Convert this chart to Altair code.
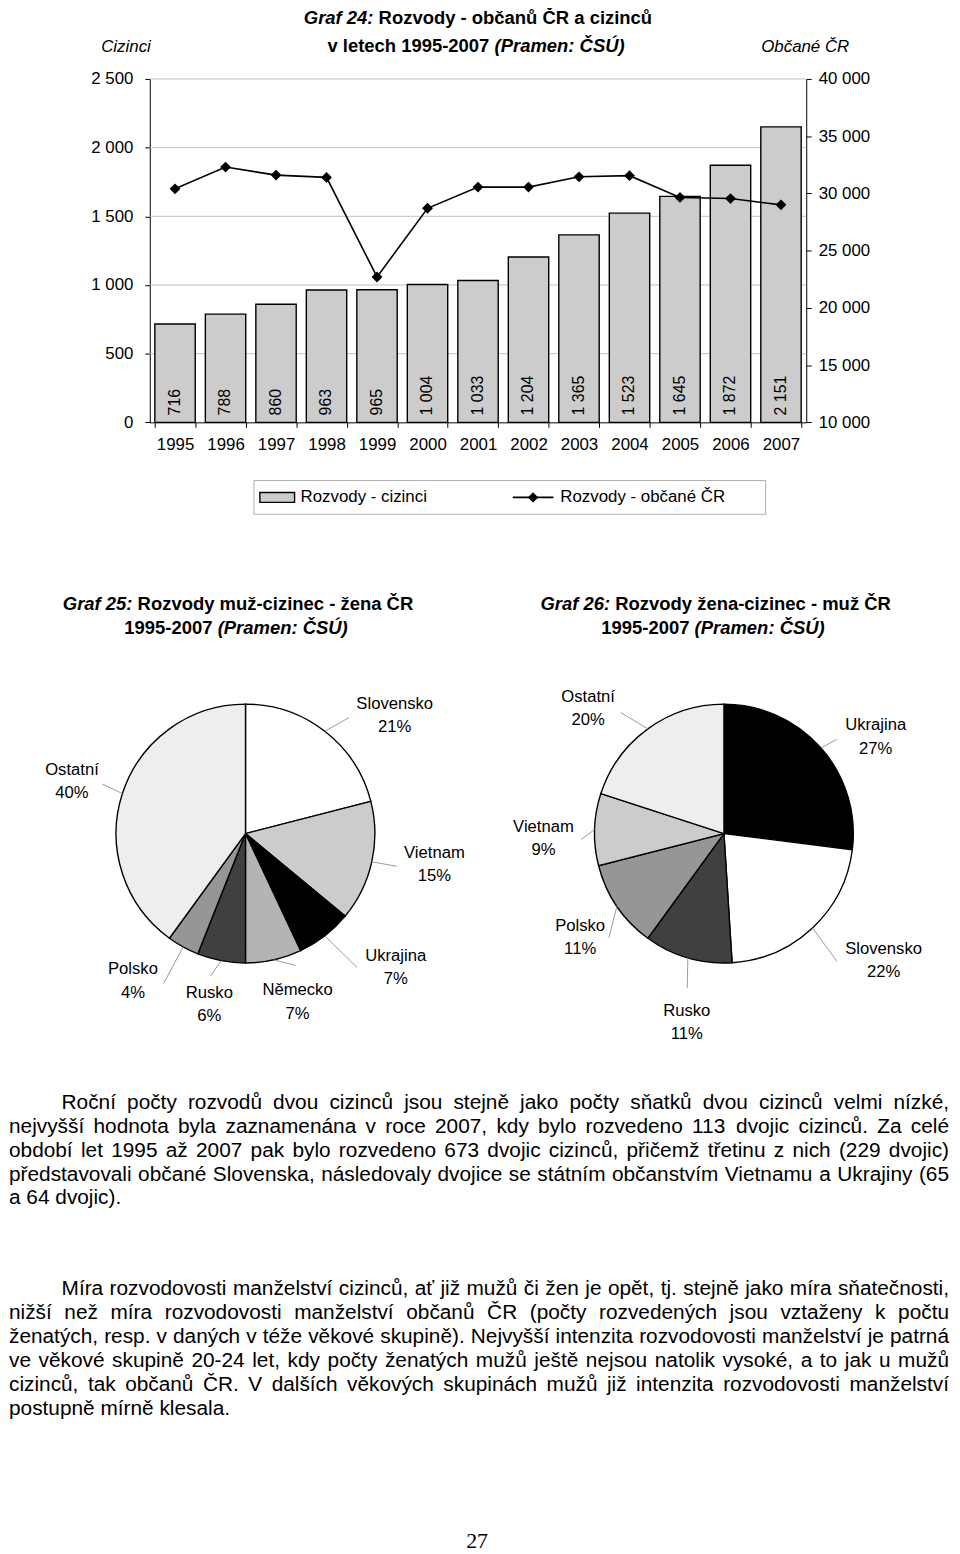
import altair as alt
import pandas as pd

# ---------------- data ----------------
years = [1995, 1996, 1997, 1998, 1999, 2000, 2001, 2002, 2003, 2004, 2005, 2006, 2007]
divorces_foreigners = [716, 788, 860, 963, 965, 1004, 1033, 1204, 1365, 1523, 1645, 1872, 2151]
divorces_citizens = [30400, 32300, 31600, 31400, 22700, 28700, 30550, 30550, 31450, 31550, 29650, 29550, 29000]
left_ticks = [0, 500, 1000, 1500, 2000, 2500]
right_ticks = [10000, 15000, 20000, 25000, 30000, 35000, 40000]

pie1_countries = ["Slovensko", "Vietnam", "Ukrajina", "Německo", "Rusko", "Polsko", "Ostatní"]
pie1_shares = [21, 15, 7, 7, 6, 4, 40]
pie2_countries = ["Ukrajina", "Slovensko", "Rusko", "Polsko", "Vietnam", "Ostatní"]
pie2_shares = [27, 22, 11, 11, 9, 20]

title24 = [[("Graf 24:", "bi"), ("Rozvody - občanů ČR a cizinců", "b")],
           [("v letech 1995-2007", "b"), ("(Pramen: ČSÚ)", "bi")]]
title25 = [[("Graf 25:", "bi"), ("Rozvody muž-cizinec - žena ČR", "b")],
           [("1995-2007", "b"), ("(Pramen: ČSÚ)", "bi")]]
title26 = [[("Graf 26:", "bi"), ("Rozvody žena-cizinec - muž ČR", "b")],
           [("1995-2007", "b"), ("(Pramen: ČSÚ)", "bi")]]
left_axis_title = "Cizinci"
right_axis_title = "Občané ČR"
legend_labels = ["Rozvody - cizinci", "Rozvody - občané ČR"]

paragraph1 = [
    "Roční počty rozvodů dvou cizinců jsou stejně jako počty sňatků dvou cizinců velmi nízké,",
    "nejvyšší hodnota byla zaznamenána v roce 2007, kdy bylo rozvedeno 113 dvojic cizinců. Za celé",
    "období let 1995 až 2007 pak bylo rozvedeno 673 dvojic cizinců, přičemž třetinu z nich (229 dvojic)",
    "představovali občané Slovenska, následovaly dvojice se státním občanstvím Vietnamu a Ukrajiny (65",
    "a 64 dvojic).",
]
paragraph2 = [
    "Míra rozvodovosti manželství cizinců, ať již mužů či žen je opět, tj. stejně jako míra sňatečnosti,",
    "nižší než míra rozvodovosti manželství občanů ČR (počty rozvedených jsou vztaženy k počtu",
    "ženatých, resp. v daných v téže věkové skupině). Nejvyšší intenzita rozvodovosti manželství je patrná",
    "ve věkové skupině 20-24 let, kdy počty ženatých mužů ještě nejsou natolik vysoké, a to jak u mužů",
    "cizinců, tak občanů ČR. V dalších věkových skupinách mužů již intenzita rozvodovosti manželství",
    "postupně mírně klesala.",
]
page_number = "27"

# ---------------- layout / style ----------------
SANS = "Liberation Sans, Arial, Helvetica, sans-serif"
SERIF = "Liberation Serif, Times New Roman, serif"
OX, OY = 8, 8
W, H = 952, 1546


def px(x):
    return x - OX


def py(y):
    return y - OY


PLOT_L, PLOT_R, PLOT_T, PLOT_B = 151, 813, 73, 419.3
X_RANGE = [px(PLOT_L), px(PLOT_R)]
Y_RANGE = [py(PLOT_B), py(PLOT_T)]

pie1_colors = ["#ffffff", "#cccccc", "#000000", "#b4b4b4", "#404040", "#969696", "#eeeeee"]
pie2_colors = ["#000000", "#ffffff", "#404040", "#969696", "#cccccc", "#eeeeee"]
PIE1_C, PIE2_C, PIE_R = (247.5, 834), (730, 834), 130.5

# label anchor (x, name-line y, pct-line y) and leader-line end (page px)
pie1_label_pos = {
    "Slovensko": (398, 703, 727, 352, 717), "Vietnam": (438, 854, 877, 400, 867),
    "Ukrajina": (399, 958, 981, 360, 969), "Německo": (300, 992, 1016, 298, 967),
    "Rusko": (211, 995, 1018, 212, 978), "Polsko": (134, 971, 995, 165, 985),
    "Ostatní": (72.5, 770, 793, 103, 784),
}
pie2_label_pos = {
    "Ukrajina": (883, 725, 749, 844, 739), "Slovensko": (891, 950, 974, 844, 963),
    "Rusko": (692.5, 1012.5, 1036, 693, 990), "Polsko": (585, 927, 950.5, 614, 939),
    "Vietnam": (548, 827, 851, 586, 840), "Ostatní": (593, 696, 720, 626, 712),
}

# Arial / Liberation Sans advance widths (1/1000 em)
LOW = "abcdefghijklmnopqrstuvwxyz"
UP = "ABCDEFGHIJKLMNOPQRSTUVWXYZ"
REG_W = dict(zip(LOW, [556, 556, 500, 556, 556, 278, 556, 556, 222, 222, 500, 222, 833, 556, 556, 556, 556, 333, 500, 278, 556, 500, 722, 500, 500, 500]))
REG_W.update(zip(UP, [667, 667, 722, 722, 667, 611, 778, 722, 278, 500, 667, 556, 833, 722, 778, 667, 778, 722, 667, 611, 722, 667, 944, 667, 667, 611]))
REG_W.update({" ": 278, ",": 278, ".": 278, "-": 333, "(": 333, ")": 333, ":": 278, "%": 889, ";": 278})
BOLD_W = dict(zip(LOW, [556, 611, 556, 611, 556, 333, 611, 611, 278, 278, 556, 278, 889, 611, 611, 611, 611, 389, 556, 333, 611, 556, 778, 556, 556, 500]))
BOLD_W.update(zip(UP, [722, 722, 722, 722, 667, 611, 778, 722, 278, 556, 722, 611, 833, 722, 778, 667, 778, 722, 667, 611, 722, 667, 944, 667, 667, 611]))
BOLD_W.update({" ": 278, ",": 278, ".": 278, "-": 333, "(": 333, ")": 333, ":": 333, "%": 889, ";": 333})
for d in "0123456789":
    REG_W[d] = 556
    BOLD_W[d] = 556
ACC = {"á": "a", "č": "c", "ď": "d", "é": "e", "ě": "e", "ň": "n", "ó": "o", "ř": "r", "š": "s",
       "ú": "u", "ů": "u", "ý": "y", "ž": "z", "Č": "C", "Ř": "R", "Š": "S", "Ú": "U", "Ž": "Z"}


def tw(s, bold=False):
    t = BOLD_W if bold else REG_W
    tot = 0
    for ch in s:
        if ch in t:
            tot += t[ch]
        elif ch == "í":
            tot += 278
        elif ch == "ť":
            tot += 370
        elif ch in ACC:
            tot += t[ACC[ch]]
        else:
            tot += 556
    return tot / 1000.0


# text collector grouped by style
TEXT_GROUPS = {}


def add_text(x, y, t, size, weight="normal", style="normal", align="left", family=SANS):
    key = (size, weight, style, align, family)
    TEXT_GROUPS.setdefault(key, []).append({"x": px(x), "y": py(y), "t": t})


def add_title(lines, cx_list, y_list, size):
    for parts, cx, y in zip(lines, cx_list, y_list):
        widths = [tw(p, True) * size for p, _ in parts]
        sp = tw(" ", True) * size
        total = sum(widths) + sp * (len(parts) - 1)
        x = cx - total / 2
        for (p, st), wd in zip(parts, widths):
            add_text(x, y, p, size, "bold", "italic" if "i" in st else "normal", "left")
            x += wd + sp


def add_paragraph(lines, x0, x1, indent, y0, pitch, fs):
    for i, line in enumerate(lines):
        words = line.split(" ")
        start = x0 + (indent if i == 0 else 0)
        ws = [tw(w) * fs for w in words]
        last = i == len(lines) - 1
        if last or len(words) == 1:
            gap = tw(" ") * fs
        else:
            gap = (x1 - start - sum(ws)) / (len(words) - 1)
        x = start
        for w, wd in zip(words, ws):
            add_text(x, y0 + i * pitch, w, fs)
            x += wd + gap


# ---------------- combo chart (Graf 24) ----------------
SEP = "replace(format(datum.value, ','), ',', ' ')"
base_axis = dict(domainColor="black", domainWidth=1, tickColor="black", tickWidth=1, tickSize=5,
                 labelFont=SANS, labelFontSize=17, labelColor="black", grid=False, title=None)
x_axis = alt.Axis(orient="bottom", offset=py(PLOT_B) - H, labelAngle=0, labelPadding=9,
                  tickBand="extent", **base_axis)
X = alt.X("year:N", scale=alt.Scale(range=X_RANGE, paddingInner=0.2, paddingOuter=0.1),
          axis=x_axis, sort=None)
left_scale = alt.Scale(domain=[0, 2500], range=Y_RANGE, nice=False, zero=True)
left_axis = alt.Axis(orient="left", offset=-px(PLOT_L), values=left_ticks, labelExpr=SEP,
                     labelPadding=12, **base_axis)
right_scale = alt.Scale(domain=[10000, 40000], range=Y_RANGE, nice=False, zero=False)
right_axis = alt.Axis(orient="right", offset=px(PLOT_R) - W, values=right_ticks, labelExpr=SEP,
                      labelPadding=7, **base_axis)

df_bar = pd.DataFrame({
    "year": [str(y) for y in years],
    "foreign": divorces_foreigners,
    "zero": [0] * len(years),
    "label": [f"{v:,}".replace(",", " ") for v in divorces_foreigners],
})
df_line = pd.DataFrame({"year": [str(y) for y in years], "citizens": divorces_citizens})
df_grid = pd.DataFrame({"foreign": left_ticks[1:]})

grid = alt.Chart(df_grid).mark_rule(color="#c0c0c0", strokeWidth=1).encode(
    y=alt.Y("foreign:Q", scale=left_scale, axis=left_axis),
    x=alt.value(px(PLOT_L)), x2=alt.value(px(PLOT_R)))
bars = alt.Chart(df_bar).mark_bar(fill="#cccccc", stroke="black", strokeWidth=1.4).encode(
    x=X, y=alt.Y("foreign:Q", scale=left_scale, axis=left_axis))
bar_labels = alt.Chart(df_bar).mark_text(angle=270, align="left", baseline="middle", dx=7,
                                         font=SANS, fontSize=16, color="black").encode(
    x=X, y=alt.Y("zero:Q", scale=left_scale, axis=left_axis), text="label:N")
left_layer = alt.layer(grid, bars, bar_labels)

line = alt.Chart(df_line).mark_line(color="black", strokeWidth=1.6).encode(
    x=X, y=alt.Y("citizens:Q", scale=right_scale, axis=right_axis))
pts = alt.Chart(df_line).mark_point(shape="diamond", filled=True, color="black", size=120, opacity=1).encode(
    x=X, y=alt.Y("citizens:Q", scale=right_scale, axis=right_axis))
right_layer = alt.layer(line, pts)
combo = alt.layer(left_layer, right_layer).resolve_scale(y="independent")

add_title(title24, [482, 480], [12, 40], 18.6)
add_text(127, 41, left_axis_title, 17, style="italic", align="center")
add_text(812, 41, right_axis_title, 17, style="italic", align="center")

# legend
one = pd.DataFrame({"a": [0]})
leg_box = alt.Chart(one).mark_rect(fillOpacity=0, stroke="#b0b0b0", strokeWidth=1).encode(
    x=alt.value(px(256)), x2=alt.value(px(772)), y=alt.value(py(478)), y2=alt.value(py(512)))
leg_swatch = alt.Chart(one).mark_rect(fill="#cccccc", stroke="black", strokeWidth=1.4).encode(
    x=alt.value(px(262)), x2=alt.value(px(297)), y=alt.value(py(490)), y2=alt.value(py(500)))
leg_line = alt.Chart(one).mark_rule(color="black", strokeWidth=1.6).encode(
    x=alt.value(px(517)), x2=alt.value(px(558)), y=alt.value(py(495)))
leg_pt = alt.Chart(one).mark_point(shape="diamond", filled=True, color="black", size=110, opacity=1).encode(
    x=alt.value(px(537.5)), y=alt.value(py(495)))
add_text(303, 495, legend_labels[0], 17)
add_text(565, 495, legend_labels[1], 17)


# ---------------- pies ----------------
def pie_layers(cats, vals, colors, center, label_pos):
    cx, cy = px(center[0]), py(center[1])
    df = pd.DataFrame({
        "cat": cats, "val": vals, "idx": list(range(len(cats))), "col": colors,
        "ex": [px(label_pos[c][3]) for c in cats], "ey": [py(label_pos[c][4]) for c in cats],
    })
    arcs = alt.Chart(df).mark_arc(radius=PIE_R, stroke="black", strokeWidth=1.4).encode(
        theta=alt.Theta("val:Q", stack=True), order=alt.Order("idx:Q"),
        color=alt.Color("col:N", scale=None), x=alt.value(cx), y=alt.value(cy))
    leaders = alt.Chart(df).transform_window(
        cum="sum(val)", sort=[alt.SortField("idx")], frame=[None, 0]
    ).transform_joinaggregate(tot="sum(val)").transform_calculate(
        mid="(datum.cum - datum.val / 2) / datum.tot * 2 * PI",
        sx=f"{cx} + {PIE_R} * sin(datum.mid)",
        sy=f"{cy} - {PIE_R} * cos(datum.mid)",
    ).mark_rule(color="#9a9a9a", strokeWidth=1).encode(
        x=alt.X("sx:Q", scale=None), y=alt.Y("sy:Q", scale=None), x2="ex:Q", y2="ey:Q")
    for c, v in zip(cats, vals):
        lx, ly1, ly2 = label_pos[c][:3]
        add_text(lx, ly1, c, 16.8, align="center")
        add_text(lx, ly2, f"{v}%", 16.8, align="center")
    return [arcs, leaders]


pie_parts = pie_layers(pie1_countries, pie1_shares, pie1_colors, PIE1_C, pie1_label_pos)
pie_parts += pie_layers(pie2_countries, pie2_shares, pie2_colors, PIE2_C, pie2_label_pos)
add_title(title25, [240, 238], [602.7, 626.7], 18.6)
add_title(title26, [721.7, 719], [602.7, 626.7], 18.6)

# ---------------- body text ----------------
TX0, TX1 = 9, 957
just = [l for l in paragraph1[:-1] + paragraph2[:-1]]
fs_body = min(21.0, min((TX1 - TX0 - (62 if l in (paragraph1[0], paragraph2[0]) else 0)) / tw(l) for l in just))
add_paragraph(paragraph1, TX0, TX1, 62 - TX0, 1106, 24, fs_body)
add_paragraph(paragraph2, TX0, TX1, 62 - TX0, 1293, 24.2, fs_body)
add_text(481, 1547, page_number, 22, align="center", family=SERIF)

# ---------------- text layers ----------------
text_layers = []
for (size, weight, style, align, family), rows in TEXT_GROUPS.items():
    text_layers.append(
        alt.Chart(pd.DataFrame(rows)).mark_text(
            font=family, fontSize=size, fontWeight=weight, fontStyle=style, align=align,
            baseline="middle", color="black"
        ).encode(x=alt.X("x:Q", scale=None), y=alt.Y("y:Q", scale=None), text="t:N")
    )

chart = alt.layer(
    combo, leg_box, leg_swatch, leg_line, leg_pt, *pie_parts, *text_layers
).properties(
    width=W, height=H, autosize=alt.AutoSizeParams(type="none"), padding=0, background="white"
).configure_view(strokeWidth=0)

chart.save("out.html", embed_options={"renderer": "svg", "actions": False})
